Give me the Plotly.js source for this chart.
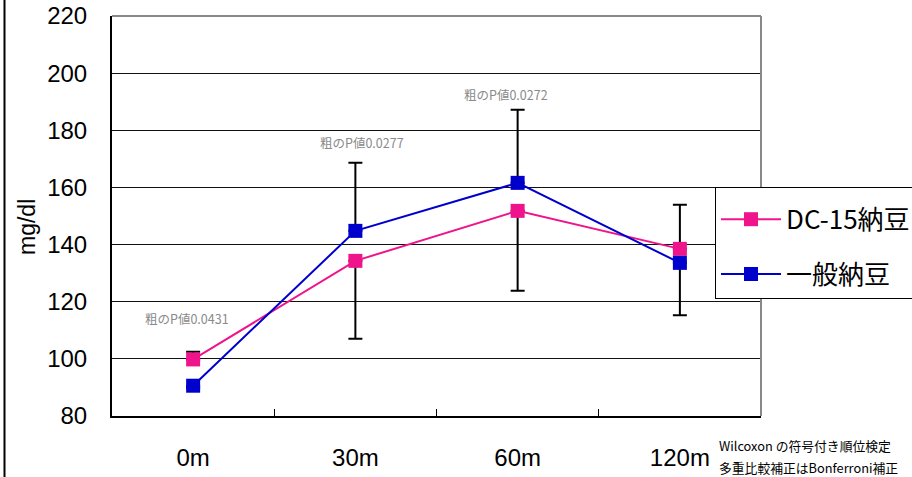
<!DOCTYPE html>
<html><head><meta charset="utf-8">
<script src="https://cdn.plot.ly/plotly-3.0.1.min.js"></script>
<style>html,body{margin:0;padding:0;background:#fff}#c{width:912px;height:477px}</style>
</head><body><div id="c"></div>
<script>
var categories = ['0m', '30m', '60m', '120m'];
var dc15 = [99.8, 134.3, 151.8, 138.5];
var normal = [90.6, 144.8, 161.6, 133.6];
var dc15ErrPlus = [2.7, 0, 0, 15.4];
var dc15ErrMinus = [0, 27.3, 28.0, 0];
var normalErrPlus = [0, 23.8, 25.6, 0];
var normalErrMinus = [0.8, 0, 0, 18.3];
var seriesNames = ['DC-15納豆', '一般納豆'];
var pLabels = ['粗のP値0.0431', '粗のP値0.0277', '粗のP値0.0272'];
var pX = [-0.04, 1.04, 1.93];
var pY = [114.3, 175.9, 192.7];
var noteLines = ['Wilcoxon の符号付き順位検定', '多重比較補正はBonferroni補正'];
var yTicks = [80, 100, 120, 140, 160, 180, 200, 220];

var jp = '"Noto Sans CJK JP", "Liberation Sans", sans-serif';
var lat = '"Liberation Sans", Arial, sans-serif';

function errObj(plus, minus) {
  return {type: 'data', symmetric: false, array: plus, arrayminus: minus,
          color: '#000000', thickness: 2, width: 7};
}

var traces = [
  {x: categories, y: dc15, name: seriesNames[0], type: 'scatter', mode: 'lines+markers',
   line: {color: '#F0148C', width: 2}, marker: {symbol: 'square', size: 14, color: '#F0148C'},
   error_y: errObj(dc15ErrPlus, dc15ErrMinus), legendgroup: 'a'},
  {x: categories, y: normal, name: seriesNames[1], type: 'scatter', mode: 'lines+markers',
   line: {color: '#0000CC', width: 2}, marker: {symbol: 'square', size: 14, color: '#0000CC'},
   error_y: errObj(normalErrPlus, normalErrMinus), legendgroup: 'b'}
];

var annotations = [];
for (var i = 0; i < pLabels.length; i++) {
  annotations.push({x: pX[i], y: pY[i], xref: 'x', yref: 'y', text: pLabels[i], showarrow: false,
    font: {family: jp, size: 12.5, color: '#8a8a8a'}});
}
annotations.push({x: (717 - 112) / 649, y: (416 - 445) / 400, xref: 'paper', yref: 'paper',
  xanchor: 'left', yanchor: 'middle', text: noteLines[0], showarrow: false,
  font: {family: jp, size: 12.8, color: '#000'}});
annotations.push({x: (717 - 112) / 649, y: (416 - 467) / 400, xref: 'paper', yref: 'paper',
  xanchor: 'left', yanchor: 'middle', text: noteLines[1], showarrow: false,
  font: {family: jp, size: 12.8, color: '#000'}});
annotations.push({x: (27 - 112) / 649, y: (416 - 227) / 400, xref: 'paper', yref: 'paper',
  text: 'mg/dl', textangle: -90, showarrow: false, xanchor: 'center', yanchor: 'middle',
  font: {family: lat, size: 23, color: '#000'}});

var layout = {
  width: 912, height: 477,
  margin: {l: 112, r: 151, t: 16, b: 61, autoexpand: false},
  paper_bgcolor: '#ffffff', plot_bgcolor: '#ffffff',
  showlegend: true,
  legend: {x: (715 - 112) / 649, y: (416 - 187) / 400, xanchor: 'left', yanchor: 'top',
    bgcolor: '#ffffff', bordercolor: '#000000', borderwidth: 1,
    font: {family: jp, size: 26, color: '#000'}, itemwidth: 60,
    title: {text: ' ', font: {size: 6}},
    traceorder: 'grouped', tracegroupgap: 18},
  xaxis: {type: 'category', range: [-0.5, 3.5], showgrid: false, zeroline: false,
    showline: true, linecolor: '#000000', linewidth: 2,
    ticks: 'inside', tickson: 'boundaries', ticklen: 7, tickcolor: '#000', tickwidth: 1,
    ticklabelstandoff: 19,
    tickfont: {family: lat, size: 24, color: '#000'}},
  yaxis: {range: [80, 220], tickvals: yTicks, showgrid: true, gridcolor: '#111111', gridwidth: 1,
    zeroline: false, showline: true, linecolor: '#000000', linewidth: 2, ticks: '',
    ticklabelstandoff: 18,
    tickfont: {family: lat, size: 24, color: '#000'}},
  shapes: [
    {type: 'line', xref: 'paper', yref: 'paper', x0: 0, x1: 1, y0: 1, y1: 1,
     line: {color: '#888888', width: 2}},
    {type: 'line', xref: 'paper', yref: 'paper', x0: 1, x1: 1, y0: 0, y1: 1,
     line: {color: '#888888', width: 2}},
    {type: 'line', xref: 'paper', yref: 'paper', x0: (4.5 - 112) / 649, x1: (4.5 - 112) / 649,
     y0: -0.2, y1: 1.1, line: {color: '#000000', width: 2}}
  ],
  annotations: annotations
};

Plotly.newPlot('c', traces, layout, {displayModeBar: false, staticPlot: true});
</script></body></html>
